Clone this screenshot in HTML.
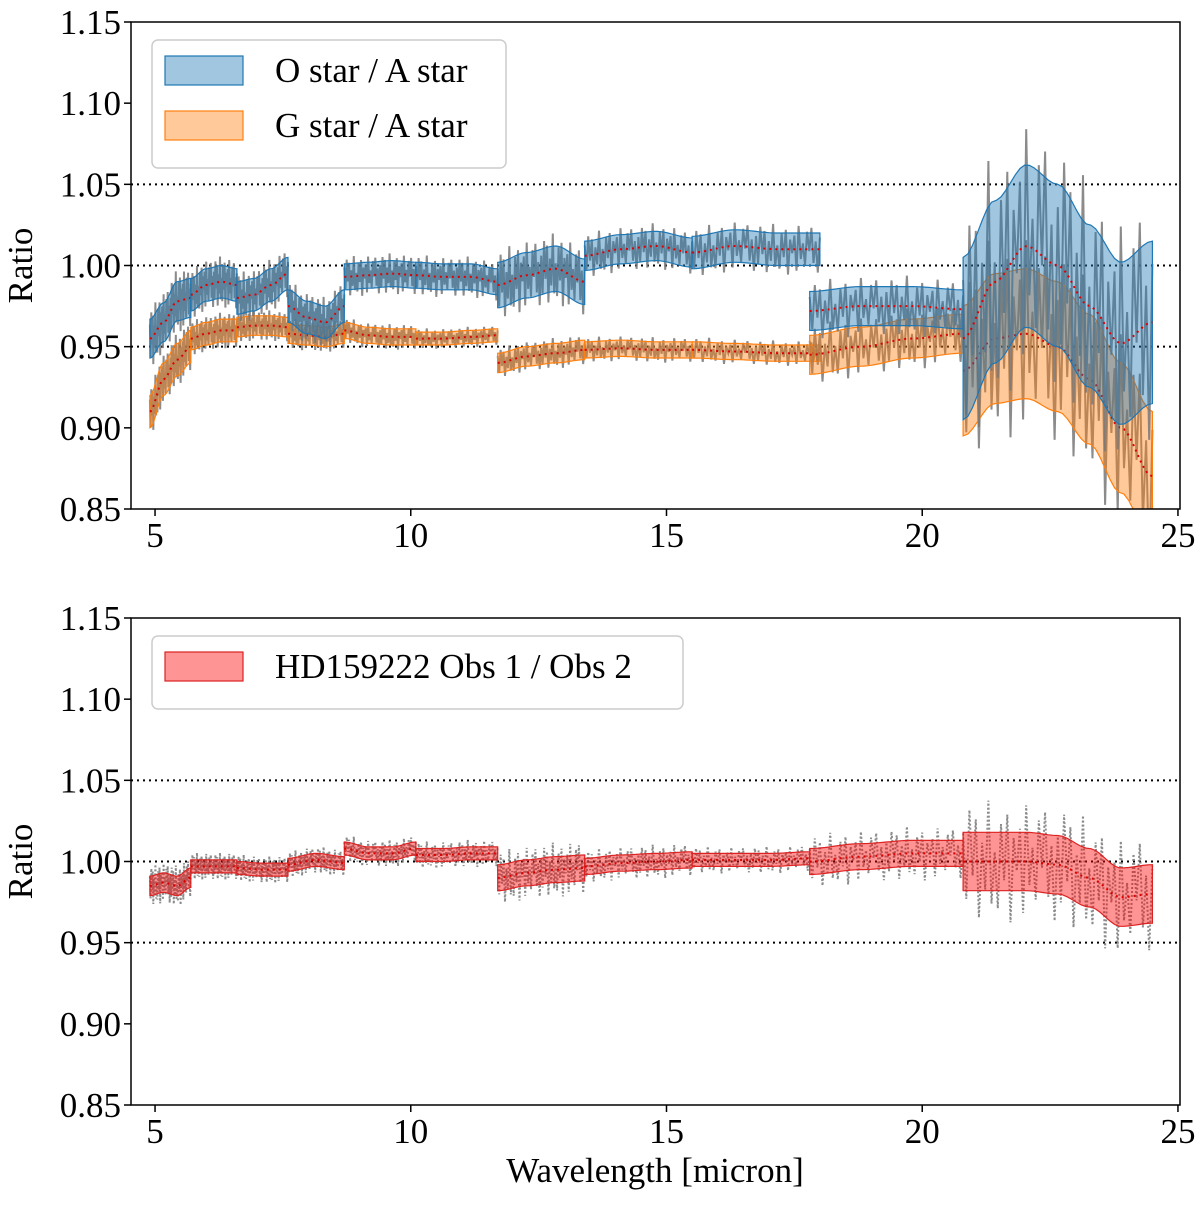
<!DOCTYPE html>
<html><head><meta charset="utf-8">
<style>
html,body{margin:0;padding:0;background:#fff;}
svg text{font-family:"Liberation Serif",serif;}
</style></head>
<body>
<svg id="chart" width="1200" height="1201" viewBox="0 0 1200 1201" xmlns="http://www.w3.org/2000/svg">
<g id="topPanel"></g>
<g id="botPanel"></g>
<text x="655" y="1182" font-size="35" text-anchor="middle">Wavelength [micron]</text>
</svg>
<script>
const xTicks=[5,10,15,20,25];
const yTicks=[0.85,0.90,0.95,1.00,1.05,1.10,1.15];
const yTickLabels=["0.85","0.90","0.95","1.00","1.05","1.10","1.15"];
const segEdges=[[4.9,5.7],[5.7,6.6],[6.6,7.6],[7.6,8.7],[8.7,10.1],[10.1,11.7],[11.7,13.4],[13.4,15.5],[15.5,18.0],[17.8,20.8],[20.8,24.5]];
const oaCenter=[[0.955,0.965,0.978,0.980],[0.982,0.988,0.990,0.988],[0.980,0.982,0.988,0.995],[0.975,0.968,0.965,0.975],[0.993,0.994,0.995,0.994],[0.994,0.993,0.993,0.990],[0.988,0.994,0.998,0.990],[1.006,1.010,1.012,1.008],[1.008,1.012,1.010,1.010],[0.972,0.975,0.975,0.973],[0.955,0.99,1.012,1.0,0.975,0.952,0.965]];
const oaWidth=[0.012,0.01,0.01,0.01,0.008,0.008,0.014,0.009,0.01,0.012,0.05];
const gaCenter=[[0.91,0.93,0.942,0.95],[0.955,0.958,0.96,0.96],[0.962,0.963,0.963,0.962],[0.958,0.957,0.956,0.958],[0.96,0.957,0.956,0.956],[0.955,0.955,0.956,0.957],[0.940,0.944,0.946,0.948],[0.948,0.949,0.948,0.948],[0.948,0.947,0.946,0.946],[0.945,0.950,0.955,0.958],[0.935,0.955,0.958,0.950,0.93,0.90,0.87]];
const gaWidth=[0.01,0.007,0.006,0.006,0.005,0.004,0.006,0.005,0.005,0.012,0.04];
const hdCenter=[[0.985,0.987,0.985,0.99],[0.997,0.997,0.997],[0.996,0.995,0.995],[0.998,1.001,0.999],[1.008,1.005,1.005,1.008],[1.004,1.004,1.005,1.005],[0.99,0.993,0.995,0.996],[0.997,0.999,1.0,1.001],[1.001,1.001,1.001,1.002],[1.0,1.003,1.005,1.005],[1.0,1.0,1.0,0.998,0.99,0.978,0.98]];
const hdSegEdges=[[4.9,5.7],[5.7,6.6],[6.6,7.6],[7.6,8.7],[8.7,10.1],[10.1,11.7],[11.7,13.4],[13.4,15.5],[15.5,17.8],[17.8,20.8],[20.8,24.5]];
const hdWidth=[0.006,0.004,0.004,0.004,0.004,0.004,0.008,0.005,0.004,0.008,0.018];
const noise=[0.6,-0.8,1.1,-0.3,0.9,-1.2,0.4,-0.6,1.3,-0.9,0.2,-1.0,0.8,-0.4,1.0,-1.3,0.5,-0.2,0.7,-1.1,1.2,-0.5,0.3,-0.8,0.9,-0.1,1.1,-0.7,0.4,-1.2];

const X0=4.53,X1=25.04,PL=131,PR=1180;
function xs(v){return PL+(v-X0)/(X1-X0)*(PR-PL);}
function mkY(t,b){return v=>b-(v-0.85)/0.30*(b-t);}
const NS="http://www.w3.org/2000/svg";
function el(t,a,p){const e=document.createElementNS(NS,t);for(const k in a)e.setAttribute(k,a[k]);p.appendChild(e);return e;}

function interp(c,e,x){const n=c.length-1;const f=(x-e[0])/(e[1]-e[0])*n;const i=Math.min(n-1,Math.max(0,Math.floor(f)));const t=f-i;const s=t*t*(3-2*t);return c[i]*(1-s)+c[i+1]*s;}

function drawBand(g,ys,edges,centers,widths,fill,stroke,noiseAmp,dash,name){
  edges.forEach((e,si)=>{
    const N=40,up=[],dn=[],mid=[];
    for(let k=0;k<=N;k++){const x=e[0]+(e[1]-e[0])*k/N;const c=interp(centers[si],e,x);let w=widths[si];
      up.push(xs(x).toFixed(1)+","+ys(c+w).toFixed(1));dn.push(xs(x).toFixed(1)+","+ys(c-w).toFixed(1));mid.push(xs(x).toFixed(1)+","+ys(c).toFixed(1));}
    const gp=el("g",{},g);
    
    
    const pts=[];const M=noise.length*2;
    for(let k=0;k<=M;k++){const x=e[0]+(e[1]-e[0])*k/M;const c=interp(centers[si],e,x);pts.push(xs(x).toFixed(1)+","+ys(c+noise[k%noise.length]*widths[si]*noiseAmp).toFixed(1));}
    const nl=el("polyline",{points:pts.join(" "),fill:"none",stroke:"#777","stroke-width":2,opacity:0.85},gp);
    if(dash) nl.setAttribute("stroke-dasharray",dash);
    el("polygon",{points:up.concat(dn.reverse()).join(" "),fill:fill,"fill-opacity":0.42,stroke:stroke,"stroke-width":1.2},gp);
    el("polyline",{points:mid.join(" "),fill:"none",stroke:"#d00","stroke-width":2,"stroke-dasharray":"2,4"},gp);
  });
}

function axes(g,t0,b0,ys,name){
  const clipId="clip"+name;
  const d=el("defs",{},g);const cp=el("clipPath",{id:clipId},d);el("rect",{x:PL,y:t0,width:PR-PL,height:b0-t0},cp);
  [0.95,1.00,1.05].forEach(v=>{const l=el("line",{x1:PL,x2:PR,y1:ys(v),y2:ys(v),stroke:"#000","stroke-width":2,"stroke-dasharray":"2,4"},g);
    
    });
  const inner=el("g",{"clip-path":"url(#"+clipId+")"},g);
  el("rect",{x:PL,y:t0,width:PR-PL,height:b0-t0,fill:"none",stroke:"#000","stroke-width":1.5},g);
  xTicks.forEach(t=>{el("line",{x1:xs(t),x2:xs(t),y1:b0,y2:b0+7,stroke:"#000","stroke-width":1.5},g);
    const tx=el("text",{x:xs(t),y:b0+38,"font-size":35,"text-anchor":"middle"},g);tx.textContent=t;
    
    });
  yTicks.forEach((t,i)=>{el("line",{x1:PL-7,x2:PL,y1:ys(t),y2:ys(t),stroke:"#000","stroke-width":1.5},g);
    const tx=el("text",{x:PL-10,y:ys(t)+12,"font-size":35,"text-anchor":"end"},g);tx.textContent=yTickLabels[i];
    
    });
  const yl=el("text",{x:32,y:(t0+b0)/2,"font-size":35,"text-anchor":"middle",transform:"rotate(-90 32 "+(t0+b0)/2+")"},g);yl.textContent="Ratio";
  
  
  return inner;
}

function legend(g,x,y,w,entries){
  const lg=el("g",{},g);
  
  
  el("rect",{x:x,y:y,width:w,height:18+entries.length*55,rx:6,fill:"#fff",stroke:"#ccc","stroke-width":1.5},lg);
  entries.forEach((en,i)=>{const eg=el("g",{},lg);
    
    
    el("rect",{x:x+13,y:y+16+i*55,width:78,height:29,fill:en[1],"fill-opacity":0.42,stroke:en[2],"stroke-width":1.2},eg);
    const t=el("text",{x:x+123,y:y+42+i*55,"font-size":35},eg);t.textContent=en[0];});
}

const topG=document.getElementById("topPanel");
const ysT=mkY(22,509);
const iT=axes(topG,22,509,ysT,"T");
drawBand(iT,ysT,segEdges,gaCenter,gaWidth,"#ff7f0e","#ff7f0e",1.2,null,"g-star-band");
drawBand(iT,ysT,segEdges,oaCenter,oaWidth,"#1f77b4","#1f77b4",1.2,null,"o-star-band");
legend(topG,152,40,354,[["O star / A star","#1f77b4","#1f77b4"],["G star / A star","#ff7f0e","#ff7f0e"]]);

const botG=document.getElementById("botPanel");
const ysB=mkY(618,1105);
const iB=axes(botG,618,1105,ysB,"B");
drawBand(iB,ysB,hdSegEdges,hdCenter,hdWidth,"#f00","#d22",1.6,"2,2","hd159222-band");
legend(botG,152,636,531,[["HD159222 Obs 1 / Obs 2","#f00","#d22"]]);
</script>
</body></html>
